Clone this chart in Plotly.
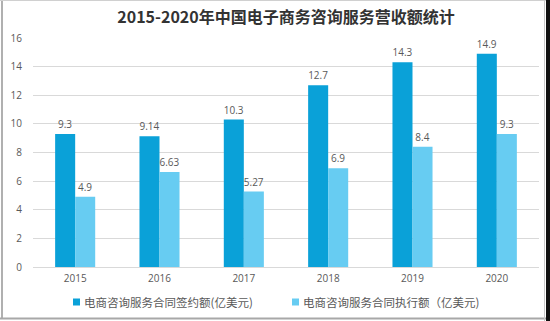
import plotly.graph_objects as go

# Chart data
years = ["2015", "2016", "2017", "2018", "2019", "2020"]
signed = [9.3, 9.14, 10.3, 12.7, 14.3, 14.9]
executed = [4.9, 6.63, 5.27, 6.9, 8.4, 9.3]
signed_labels = ["9.3", "9.14", "10.3", "12.7", "14.3", "14.9"]
executed_labels = ["4.9", "6.63", "5.27", "6.9", "8.4", "9.3"]
series_names = ["电商咨询服务合同签约额(亿美元)", "电商咨询服务合同执行额（亿美元)"]
title_text = "2015-2020年中国电子商务咨询服务营收额统计"

DARK = "#0aa1d8"
LIGHT = "#67ccf2"
TXT = "#595959"
FONT = "Open Sans, Noto Sans CJK SC, sans-serif"

W, H = 550, 321
L, R, T, B = 33, 11, 38, 54
pw, ph = W - L - R, H - T - B


def px(x):
    return (x - L) / pw


def py(y):
    return (H - B - y) / ph


fig = go.Figure()
fig.add_trace(go.Bar(
    x=years, y=signed, name=series_names[0], marker_color=DARK,
    marker_line_width=0,
    text=signed_labels, textposition="outside", cliponaxis=False,
    textfont=dict(size=10, color=TXT, family=FONT),
))
fig.add_trace(go.Bar(
    x=years, y=executed, name=series_names[1], marker_color=LIGHT,
    marker_line_width=0,
    text=executed_labels, textposition="outside", cliponaxis=False,
    textfont=dict(size=10, color=TXT, family=FONT),
))

# Outer frame
shapes = [
    dict(type="line", xref="paper", yref="paper", x0=px(2), x1=px(2), y0=py(0), y1=py(319),
         line=dict(color="#b0b0b0", width=2)),
    dict(type="line", xref="paper", yref="paper", x0=px(0), x1=px(546), y0=py(318.5), y1=py(318.5),
         line=dict(color="#a8a8a8", width=2)),
    dict(type="line", xref="paper", yref="paper", x0=px(0), x1=px(546), y0=py(0.5), y1=py(0.5),
         line=dict(color="#d0d0d0", width=1)),
    dict(type="line", xref="paper", yref="paper", x0=px(544.5), x1=px(544.5), y0=py(0), y1=py(321),
         line=dict(color="#c8c8c8", width=1)),
    dict(type="rect", xref="paper", yref="paper", x0=px(546), x1=px(551), y0=py(0), y1=py(321),
         line=dict(width=0), fillcolor="#111111"),
]

# Legend row: small square swatch followed by the series name
annotations = []
legend_y = 302
for name, color, sx in zip(series_names, [DARK, LIGHT], [73, 292]):
    shapes.append(dict(type="rect", xref="paper", yref="paper",
                       x0=px(sx), x1=px(sx + 7), y0=py(legend_y - 3.5), y1=py(legend_y + 3.5),
                       line=dict(width=0), fillcolor=color))
    annotations.append(dict(text=name, xref="paper", yref="paper", x=px(sx + 9), y=py(legend_y),
                            xanchor="left", yanchor="middle", showarrow=False,
                            font=dict(size=11.5, color=TXT, family="Noto Sans CJK SC")))

fig.update_layout(
    width=W, height=H,
    margin=dict(l=L, r=R, t=T, b=B, autoexpand=False),
    paper_bgcolor="white", plot_bgcolor="white",
    barmode="group", bargap=0.525, bargroupgap=0,
    title=dict(text=title_text, x=0.5, xref="paper", xanchor="center",
               y=1 - 17 / H, yanchor="middle",
               font=dict(size=16, color="#333333", family="Noto Sans CJK SC", weight="bold")),
    xaxis=dict(showgrid=False, showline=False, ticks="", ticklabelstandoff=4,
               tickfont=dict(size=10, color=TXT, family=FONT)),
    yaxis=dict(range=[0, 16], dtick=2, showgrid=True, gridcolor="#d9d9d9", gridwidth=1,
               zeroline=True, zerolinecolor="#d9d9d9", zerolinewidth=1,
               showline=False, ticks="", ticklabelstandoff=10,
               tickfont=dict(size=10, color=TXT, family=FONT)),
    shapes=shapes,
    annotations=annotations,
    showlegend=False,
)

fig.write_html("out.html")
